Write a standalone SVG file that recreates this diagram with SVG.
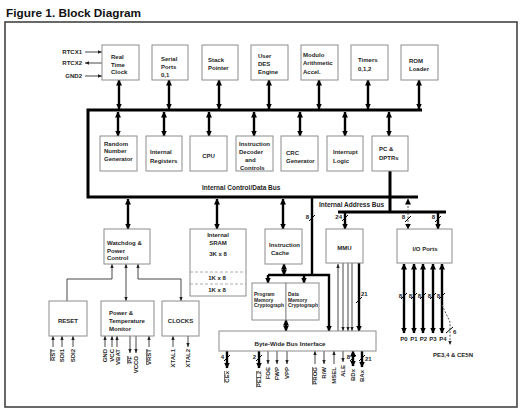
<svg xmlns="http://www.w3.org/2000/svg" width="528" height="415" viewBox="0 0 528 415">
<style>
.bx{fill:#fff;stroke:#8c8c8c;stroke-width:1}
.t{font-family:"Liberation Sans",Arial,sans-serif;font-size:6px;font-weight:bold;fill:#1e1e1e}
.s5{font-size:5px}
.c{text-anchor:middle}
.e{text-anchor:end}
.ov{text-decoration:overline}
.bus{stroke:#000;stroke-width:3;fill:none}
.tk{stroke:#000;stroke-width:2.4;fill:none}
.tn{stroke:#333;stroke-width:0.9;fill:none}
.ds{stroke:#555;stroke-width:1;stroke-dasharray:2 1.5;fill:none}
.sl{stroke:#000;stroke-width:1;fill:none}
.dl{stroke:#999;stroke-width:0.8;stroke-dasharray:3 2;fill:none}
</style>
<defs>
<marker id="a" markerWidth="6" markerHeight="6" refX="5.5" refY="3" orient="auto-start-reverse" markerUnits="userSpaceOnUse"><path d="M0,0 L6,3 L0,6z" fill="#000"/></marker>
<marker id="s" markerWidth="4" markerHeight="4" refX="4" refY="2" orient="auto-start-reverse" markerUnits="userSpaceOnUse"><path d="M0,0.3 L4,2 L0,3.7z" fill="#222"/></marker>
</defs>
<rect width="528" height="415" fill="#fff"/>
<text x="6" y="17" style="font-family:'Liberation Sans',Arial,sans-serif;font-size:11.8px;font-weight:bold;fill:#111">Figure 1. Block Diagram</text>
<rect x="5" y="22" width="512" height="385" fill="none" stroke="#444" stroke-width="1.6"/>

<g id="connectors">
<path class="bus" d="M422,110 H88 V197 H418"/>
<path class="bus" d="M390,171 V212"/>
<path class="bus" d="M338,212 H446"/>
<!-- top row arrows -->
<line class="tk" x1="119" y1="80" x2="119" y2="109" marker-start="url(#a)" marker-end="url(#a)"/>
<line class="tk" x1="169" y1="80" x2="169" y2="109" marker-start="url(#a)" marker-end="url(#a)"/>
<line class="tk" x1="219" y1="80" x2="219" y2="109" marker-start="url(#a)" marker-end="url(#a)"/>
<line class="tk" x1="269" y1="80" x2="269" y2="109" marker-start="url(#a)" marker-end="url(#a)"/>
<line class="tk" x1="319" y1="80" x2="319" y2="109" marker-start="url(#a)" marker-end="url(#a)"/>
<line class="tk" x1="368" y1="80" x2="368" y2="109" marker-start="url(#a)" marker-end="url(#a)"/>
<line class="tk" x1="419" y1="80" x2="419" y2="109" marker-start="url(#a)" marker-end="url(#a)"/>
<!-- second row arrows -->
<line class="tk" x1="118" y1="112" x2="118" y2="136" marker-start="url(#a)" marker-end="url(#a)"/>
<line class="tk" x1="164" y1="112" x2="164" y2="136" marker-start="url(#a)" marker-end="url(#a)"/>
<line class="tk" x1="209" y1="112" x2="209" y2="136" marker-start="url(#a)" marker-end="url(#a)"/>
<line class="tk" x1="254" y1="112" x2="254" y2="136" marker-start="url(#a)" marker-end="url(#a)"/>
<line class="tk" x1="300" y1="112" x2="300" y2="136" marker-start="url(#a)" marker-end="url(#a)"/>
<line class="tk" x1="345" y1="112" x2="345" y2="136" marker-start="url(#a)" marker-end="url(#a)"/>
<line class="tk" x1="389" y1="112" x2="389" y2="136" marker-start="url(#a)" marker-end="url(#a)"/>
<!-- below data bus -->
<line class="tk" x1="128" y1="199" x2="128" y2="229" marker-start="url(#a)" marker-end="url(#a)"/>
<line class="tk" x1="217" y1="199" x2="217" y2="229" marker-start="url(#a)" marker-end="url(#a)"/>
<line class="tk" x1="283" y1="199" x2="283" y2="229" marker-start="url(#a)" marker-end="url(#a)"/>
<path class="tk" d="M312,197 V275"/>
<line class="sl" x1="309" y1="221" x2="315" y2="215"/>
<path class="tk" d="M268,275 H329 V331" marker-end="url(#a)"/>
<line class="tk" x1="268" y1="275" x2="268" y2="283" marker-end="url(#a)"/>
<line class="tk" x1="304" y1="275" x2="304" y2="283" marker-end="url(#a)"/>
<line class="tk" x1="284" y1="264" x2="284" y2="275" marker-start="url(#a)" marker-end="url(#a)"/>
<line class="tk" x1="286" y1="320" x2="286" y2="331" marker-start="url(#a)" marker-end="url(#a)"/>
<!-- address bus to MMU / IO -->
<line class="tk" x1="345" y1="212" x2="345" y2="229" marker-end="url(#a)"/>
<line class="sl" x1="342" y1="221" x2="348" y2="215"/>
<line class="ds" x1="408" y1="199" x2="408" y2="229" marker-start="url(#a)" marker-end="url(#a)"/>
<line class="sl" x1="405" y1="222" x2="411" y2="216"/>
<line class="tk" x1="438" y1="212" x2="438" y2="229" marker-end="url(#a)"/>
<line class="sl" x1="435" y1="222" x2="441" y2="216"/>
<!-- MMU to byte-wide -->
<line class="tn" x1="338" y1="264" x2="338" y2="331" marker-start="url(#s)"/>
<line class="tn" x1="343" y1="263" x2="343" y2="331" marker-end="url(#s)"/>
<line class="tn" x1="348" y1="263" x2="348" y2="331" marker-end="url(#s)"/>
<line class="tn" x1="352" y1="263" x2="352" y2="331" marker-end="url(#s)"/>
<line class="tk" x1="359" y1="263" x2="359" y2="331" marker-end="url(#a)"/>
<line class="sl" x1="356" y1="303" x2="362" y2="297"/>
<!-- I/O ports -->
<line class="tk" x1="404" y1="264" x2="404" y2="333" marker-start="url(#a)" marker-end="url(#a)"/>
<line class="tk" x1="414" y1="264" x2="414" y2="333" marker-start="url(#a)" marker-end="url(#a)"/>
<line class="tk" x1="423" y1="264" x2="423" y2="333" marker-start="url(#a)" marker-end="url(#a)"/>
<line class="tk" x1="433" y1="264" x2="433" y2="333" marker-start="url(#a)" marker-end="url(#a)"/>
<line class="tk" x1="442" y1="264" x2="442" y2="333" marker-start="url(#a)" marker-end="url(#a)"/>
<line class="sl" x1="401" y1="299" x2="407" y2="293"/>
<line class="sl" x1="411" y1="299" x2="417" y2="293"/>
<line class="sl" x1="420" y1="299" x2="426" y2="293"/>
<line class="sl" x1="430" y1="299" x2="436" y2="293"/>
<line class="sl" x1="439" y1="299" x2="445" y2="293"/>
<path class="ds" d="M442,305 L450,322 V345" marker-end="url(#s)"/>
<line class="sl" x1="446" y1="333" x2="453" y2="327"/>
<!-- RTC inputs -->
<line class="tn" x1="85" y1="52" x2="102" y2="52" marker-end="url(#s)"/>
<line class="tn" x1="85" y1="63" x2="102" y2="63" marker-start="url(#s)"/>
<line class="tn" x1="85" y1="76" x2="102" y2="76" marker-end="url(#s)"/>
<!-- watchdog to lower boxes -->
<path class="tn" d="M112,264 V279 H67 V301" marker-start="url(#s)"/>
<line class="tn" x1="126" y1="264" x2="126" y2="301" marker-start="url(#s)" marker-end="url(#s)"/>
<path class="tn" d="M138,264 V279 H181 V301" marker-start="url(#s)" marker-end="url(#s)"/>
<!-- RESET pins -->
<line class="tn" x1="53" y1="336" x2="53" y2="347" marker-start="url(#s)"/>
<line class="tn" x1="62" y1="336" x2="62" y2="347" marker-start="url(#s)"/>
<line class="tn" x1="73" y1="336" x2="73" y2="347" marker-start="url(#s)"/>
<!-- power pins -->
<line class="tn" x1="105" y1="336" x2="105" y2="347" marker-start="url(#s)"/>
<line class="tn" x1="112" y1="336" x2="112" y2="347" marker-start="url(#s)"/>
<line class="tn" x1="117" y1="336" x2="117" y2="347" marker-start="url(#s)"/>
<line class="tn" x1="130" y1="336" x2="130" y2="353" marker-end="url(#s)"/>
<line class="tn" x1="136" y1="336" x2="136" y2="353" marker-end="url(#s)"/>
<line class="tn" x1="149" y1="336" x2="149" y2="347" marker-start="url(#s)"/>
<!-- clocks pins -->
<line class="tn" x1="173" y1="336" x2="173" y2="347" marker-start="url(#s)"/>
<line class="tn" x1="188" y1="336" x2="188" y2="347" marker-end="url(#s)"/>
<!-- byte-wide pins -->
<line class="tk" x1="227" y1="351" x2="227" y2="368" marker-end="url(#a)"/>
<line class="sl" x1="224" y1="361" x2="230" y2="355"/>
<line class="tk" x1="259" y1="351" x2="259" y2="368" marker-end="url(#a)"/>
<line class="sl" x1="256" y1="361" x2="262" y2="355"/>
<line class="tn" x1="268" y1="351" x2="268" y2="364" marker-end="url(#s)"/>
<line class="tn" x1="277" y1="351" x2="277" y2="364" marker-end="url(#s)"/>
<line class="tn" x1="287" y1="351" x2="287" y2="364" marker-end="url(#s)"/>
<line class="tn" x1="315" y1="351" x2="315" y2="364" marker-start="url(#s)"/>
<line class="tn" x1="324" y1="351" x2="324" y2="364" marker-end="url(#s)"/>
<line class="tn" x1="334" y1="351" x2="334" y2="364" marker-start="url(#s)"/>
<line class="tn" x1="343" y1="351" x2="343" y2="362" marker-end="url(#s)"/>
<line class="tk" x1="353" y1="351" x2="353" y2="366" marker-start="url(#a)" marker-end="url(#a)"/>
<line class="sl" x1="350" y1="361" x2="356" y2="355"/>
<line class="tk" x1="362" y1="351" x2="362" y2="367" marker-end="url(#a)"/>
<line class="sl" x1="359" y1="361" x2="365" y2="355"/>
</g>

<g id="width-labels" class="t">
<text class="t e" x="309" y="219">8</text>
<text class="t e" x="342" y="219">24</text>
<text class="t e" x="405" y="219">8</text>
<text class="t e" x="435" y="219">8</text>
<text class="t" x="361" y="296">21</text>
<text class="t e" x="402" y="298">8</text>
<text class="t e" x="412" y="298">8</text>
<text class="t e" x="421" y="298">8</text>
<text class="t e" x="431" y="298">8</text>
<text class="t e" x="440" y="298">8</text>
<text class="t" x="453" y="334">6</text>
<text class="t e" x="224" y="359">4</text>
<text class="t e" x="256" y="359">2</text>
<text class="t e" x="350" y="359">8</text>
<text class="t" x="365" y="361">21</text>
</g>

<g id="bus-labels">
<text class="t" x="202" y="190" style="font-size:6.5px">Internal Control/Data Bus</text>
<text class="t" x="319" y="207" style="font-size:6.5px">Internal Address Bus</text>
</g>

<g id="rtc"><rect class="bx" x="102" y="45" width="37" height="35"/><text class="t" x="111" y="59">Real</text><text class="t" x="111" y="66.5">Time</text><text class="t" x="111" y="74">Clock</text></g>
<g id="serial"><rect class="bx" x="152" y="45" width="36" height="35"/><text class="t" x="161" y="60.5">Serial</text><text class="t" x="161" y="68.5">Ports</text><text class="t" x="161" y="77">0,1</text></g>
<g id="stack"><rect class="bx" x="202" y="45" width="36" height="35"/><text class="t" x="208" y="62">Stack</text><text class="t" x="208" y="70">Pointer</text></g>
<g id="des"><rect class="bx" x="251" y="45" width="37" height="35"/><text class="t" x="258" y="57.5">User</text><text class="t" x="258" y="65.5">DES</text><text class="t" x="258" y="73.5">Engine</text></g>
<g id="modulo"><rect class="bx" x="301" y="45" width="37" height="35"/><text class="t" x="303" y="56.5">Modulo</text><text class="t" x="303" y="65">Arithmetic</text><text class="t" x="303" y="73.5">Accel.</text></g>
<g id="timers"><rect class="bx" x="351" y="45" width="37" height="35"/><text class="t" x="358" y="62">Timers</text><text class="t" x="358" y="70.5">0,1,2</text></g>
<g id="rom"><rect class="bx" x="401" y="45" width="37" height="35"/><text class="t" x="409" y="62.5">ROM</text><text class="t" x="409" y="71">Loader</text></g>

<g id="rng"><rect class="bx" x="100" y="136" width="37" height="35"/><text class="t" x="104" y="145.5">Random</text><text class="t" x="104" y="153">Number</text><text class="t" x="104" y="160.5">Generator</text></g>
<g id="intreg"><rect class="bx" x="146" y="136" width="36" height="35"/><text class="t" x="150" y="153.5">Internal</text><text class="t" x="150" y="162.5">Registers</text></g>
<g id="cpu"><rect class="bx" x="190" y="136" width="37" height="35"/><text class="t c" x="208.5" y="158">CPU</text></g>
<g id="decoder"><rect class="bx" x="236" y="136" width="37" height="35"/><text class="t" x="239" y="145.5">Instruction</text><text class="t" x="239" y="153.5">Decoder</text><text class="t" x="245" y="161.5">and</text><text class="t" x="240" y="169.5">Controls</text></g>
<g id="crc"><rect class="bx" x="281" y="136" width="37" height="35"/><text class="t" x="286" y="154.5">CRC</text><text class="t" x="286" y="163">Generator</text></g>
<g id="interrupt"><rect class="bx" x="327" y="136" width="36" height="35"/><text class="t" x="333" y="153.5">Interrupt</text><text class="t" x="333" y="162.5">Logic</text></g>
<g id="pc"><rect class="bx" x="372" y="136" width="36" height="35"/><text class="t" x="379" y="150.5">PC &amp;</text><text class="t" x="379" y="159.5">DPTRs</text></g>

<g id="watchdog"><rect class="bx" x="104" y="229" width="46" height="35"/><text class="t" x="107" y="244.5">Watchdog &amp;</text><text class="t" x="107" y="252.5">Power</text><text class="t" x="107" y="260">Control</text></g>
<g id="sram"><rect class="bx" x="190" y="229" width="56" height="67"/><text class="t c" x="218" y="236.5">Internal</text><text class="t c" x="218" y="244.5">SRAM</text><text class="t c" x="218" y="255.5">3K x 8</text><line class="dl" x1="190" y1="272" x2="246" y2="272"/><text class="t c" x="217" y="280">1K x 8</text><line class="dl" x1="190" y1="284" x2="246" y2="284"/><text class="t c" x="217" y="292">1K x 8</text></g>
<g id="icache"><rect class="bx" x="265" y="229" width="37" height="35"/><text class="t" x="269" y="246.5">Instruction</text><text class="t" x="271" y="254.5">Cache</text></g>
<g id="mmu"><rect class="bx" x="326" y="229" width="37" height="34"/><text class="t c" x="344.5" y="249.5">MMU</text></g>
<g id="io"><rect class="bx" x="397" y="229" width="55" height="34"/><text class="t c" x="425" y="250.5">I/O Ports</text></g>
<g id="pmc"><rect class="bx" x="252" y="283" width="34" height="37"/><text class="t s5" x="254" y="296">Program</text><text class="t s5" x="254" y="301.5">Memory</text><text class="t s5" x="254" y="307">Cryptograph</text></g>
<g id="dmc"><rect class="bx" x="286" y="283" width="33" height="37"/><text class="t s5" x="288" y="296">Data</text><text class="t s5" x="288" y="301.5">Memory</text><text class="t s5" x="288" y="307">Cryptograph</text></g>
<g id="bytewide"><rect class="bx" x="219" y="331" width="157" height="20"/><text class="t c" x="290" y="345.5" style="font-size:6.2px">Byte-Wide Bus Interface</text></g>
<g id="reset"><rect class="bx" x="49" y="301" width="38" height="35"/><text class="t c" x="68" y="322.5">RESET</text></g>
<g id="power"><rect class="bx" x="101" y="301" width="53" height="35"/><text class="t" x="109" y="314.5">Power &amp;</text><text class="t" x="109" y="322.5">Temperature</text><text class="t" x="109" y="330.5">Monitor</text></g>
<g id="clocks"><rect class="bx" x="162" y="301" width="37" height="35"/><text class="t c" x="180.5" y="322.5">CLOCKS</text></g>

<g id="pin-labels">
<text class="t e" x="82" y="54.3">RTCX1</text>
<text class="t e" x="82" y="65">RTCX2</text>
<text class="t e" x="82" y="78">GND2</text>
<text class="t e ov" transform="translate(55,349) rotate(-90)">RST</text>
<text class="t e" transform="translate(64,349) rotate(-90)">SDI1</text>
<text class="t e" transform="translate(75,349) rotate(-90)">SDI2</text>
<text class="t e" transform="translate(107,349) rotate(-90)">GND</text>
<text class="t e" transform="translate(114,349) rotate(-90)">VCC</text>
<text class="t e" transform="translate(119.5,349) rotate(-90)">VBAT</text>
<text class="t e ov" transform="translate(132,356) rotate(-90)">PF</text>
<text class="t e" transform="translate(138,356) rotate(-90)">VCCO</text>
<text class="t e ov" transform="translate(151,349) rotate(-90)">VRST</text>
<text class="t e" transform="translate(175,349) rotate(-90)">XTAL1</text>
<text class="t e" transform="translate(190,349) rotate(-90)">XTAL2</text>
<text class="t e ov" transform="translate(229,371) rotate(-90)">CEx</text>
<text class="t e ov" transform="translate(261,371) rotate(-90)">PE1,2</text>
<text class="t e" transform="translate(270,367) rotate(-90)">FOE</text>
<text class="t e" transform="translate(279,367) rotate(-90)">FWP</text>
<text class="t e" transform="translate(289,367) rotate(-90)">VPP</text>
<text class="t e ov" transform="translate(317,367) rotate(-90)">PROG</text>
<text class="t e" transform="translate(326,367) rotate(-90)">R/W</text>
<text class="t e" transform="translate(336,367) rotate(-90)">MSEL</text>
<text class="t e" transform="translate(345,365) rotate(-90)">ALE</text>
<text class="t e" transform="translate(355,369) rotate(-90)">BDx</text>
<text class="t e" transform="translate(364,370) rotate(-90)">BAx</text>
<text class="t c" x="404" y="341">P0</text>
<text class="t c" x="414" y="341">P1</text>
<text class="t c" x="423.5" y="341">P2</text>
<text class="t c" x="433" y="341">P3</text>
<text class="t c" x="443" y="341">P4</text>
<text class="t" x="433" y="357">PE3,4 &amp; CE5N</text>
</g>
</svg>
